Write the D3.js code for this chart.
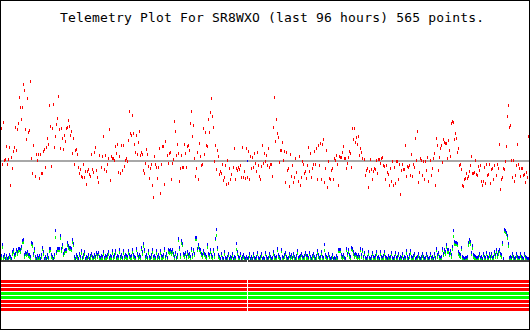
<!DOCTYPE html>
<html><head><meta charset="utf-8">
<script src="https://cdn.jsdelivr.net/npm/d3@7"></script>
<style>body{margin:0;background:#fff}svg{display:block}</style>
</head><body><svg id="c" width="530" height="330"></svg>
<script>
const title = "Telemetry Plot For SR8WXO (last 96 hours) 565 points.";
const hoursSpan = [-96, 0];
// red channel (arbitrary units, reference level at 150)
const redValues = [
250,140,268,154,157,196,142,157,193,79,163,130,181,193,253,184,247,265,343,313,
277,313,382,364,247,217,340,238,244,391,160,115,199,106,172,154,172,100,172,115,
115,181,187,133,193,220,202,319,256,136,250,322,193,226,262,280,346,247,190,250,
220,187,229,211,250,253,274,256,229,241,175,220,142,184,187,172,133,115,127,106,
103,142,103,121,82,121,127,112,106,172,127,118,178,193,124,103,88,169,133,166,
226,127,169,121,142,160,247,94,166,160,160,154,196,175,202,118,166,115,199,124,
199,136,154,160,151,214,301,235,229,289,235,202,178,229,172,208,241,169,178,172,
124,115,145,187,172,136,100,130,142,79,43,166,142,133,100,133,190,55,142,196,
196,82,211,169,145,175,178,97,145,157,271,241,
168,202,175,91,130,169,133,133,202,175,133,196,199,184,265,301,226,259,160,106,
130,178,97,205,166,139,142,250,172,238,199,196,277,238,298,340,286,253,151,199,
127,184,166,112,121,115,142,94,103,139,82,154,85,130,97,112,133,190,97,130,
124,133,127,139,103,193,103,121,100,190,103,181,97,166,130,163,133,175,145,121,
178,139,106,97,136,199,145,175,151,169,139,190,133,142,142,106,253,343,211,277,
235,223,148,184,184,208,154,181,88,178,124,130,76,172,106,139,88,103,160,118,
91,166,79,103,151,142,115,121,100,139,193,121,175,103,130,142,181,142,190,97,
199,139,205,97,202,217,88,130,184,73,151,100,97,124,130,97,160,154,169,142,
79,166,163,163,178,196,160,160,130,145,163,181,175,133,250,217,250,208,223,
202,226,169,190,178,160,157,109,124,130,73,121,157,127,97,121,130,127,154,115,
157,157,145,160,163,139,136,97,139,118,112,79,130,91,151,79,133,85,151,151,
97,142,52,124,142,127,127,199,106,136,133,139,109,172,106,142,133,220,154,241,
88,118,160,154,109,151,97,151,124,163,91,154,109,130,160,175,79,220,199,124,
163,190,199,148,217,208,205,205,160,214,184,166,265,271,268,217,235,220,178,190,
139,142,127,79,76,97,100,115,100,106,121,139,166,115,115,118,154,112,109,136,
124,139,91,79,91,133,85,142,109,112,142,85,127,130,97,139,109,142,130,202,
67,97,103,130,127,151,196,286,319,253,259,154,103,154,91,109,139,202,142,130,
106,130,130,109,112,88,118,103,226];
const referenceLevel = [150];
// blue channel (upper) and green channel (lower) of the bottom trace
const blueValues = [
17,50,15,20,10,17,8,12,20,15,8,30,35,20,25,37,30,38,40,35,
45,63,65,20,27,25,30,22,20,15,58,53,25,40,15,10,17,12,17,10,
20,43,30,10,15,8,20,12,38,40,20,15,8,20,92,30,38,38,40,77,
38,50,25,33,37,37,57,47,43,43,40,65,55,15,10,20,15,8,25,15,
33,12,20,30,10,15,12,20,8,17,25,15,12,20,15,27,20,27,15,12,
17,15,30,12,17,15,20,30,12,17,15,33,15,20,33,12,17,15,35,15,
20,12,33,15,20,17,15,33,20,15,17,35,20,15,12,40,25,15,20,15,
43,30,53,37,15,20,12,33,15,12,20,35,15,17,12,33,15,20,12,33,
17,15,20,40,15,25,12,35,33,35,30,35,25,15,27,12,20,70,43,
20,63,55,25,20,27,15,30,20,23,15,40,20,37,25,73,73,40,50,40,
35,25,20,33,25,20,15,50,25,20,35,20,15,37,20,70,95,43,20,15,
10,25,12,8,30,12,8,15,25,10,15,12,23,10,15,12,53,30,15,12,
25,10,15,20,12,8,15,10,12,23,10,15,8,23,12,10,15,27,12,10,
15,23,10,12,8,27,15,10,12,23,15,10,12,30,17,12,15,40,20,15,
10,37,15,12,20,27,15,10,12,23,15,20,12,23,15,10,17,33,12,15,
17,25,15,12,17,27,17,17,12,27,15,10,17,23,15,10,17,33,20,12,
15,30,15,12,50,20,15,12,25,15,10,12,20,10,12,8,17,12,37,37,
37,20,15,20,12,8,40,25,35,20,
15,43,40,30,20,25,20,15,20,15,40,20,37,15,27,12,10,15,30,12,
10,15,27,15,12,17,30,12,15,10,30,15,12,17,30,15,12,10,17,12,
15,27,12,10,15,27,12,15,25,10,15,12,23,10,15,12,33,15,10,20,
33,15,12,17,25,10,12,15,23,12,10,15,23,15,10,12,25,15,10,12,
25,12,15,10,23,12,40,20,27,15,12,15,40,25,35,30,50,35,35,25,
33,20,45,93,60,57,57,55,30,23,20,43,15,12,10,12,13,15,57,65,
60,27,47,20,17,15,12,13,15,25,12,15,10,25,15,12,27,15,12,23,
15,23,12,15,30,20,35,20,30,37,25,20,57,10,95,93,87,77,53,13,
15,12,23,15,10,12,23,15,13,12,23,15,12,10,25,15,12,10,10];
const greenValues = [
10,43,8,12,4,8,3,6,12,8,3,22,27,12,18,30,22,30,33,27,
38,56,57,13,20,18,22,15,13,8,50,45,17,30,8,4,10,6,10,4,
12,35,22,3,8,3,12,6,30,33,12,8,3,13,73,25,32,32,33,70,
30,42,18,25,30,30,48,40,35,35,33,57,48,8,3,12,8,3,17,8,
25,6,12,22,4,8,6,12,3,10,17,8,6,12,8,20,12,20,8,6,
10,8,22,6,10,8,12,22,6,10,8,25,8,12,25,6,10,8,27,8,
12,6,25,8,12,10,8,25,12,8,10,27,12,8,6,32,17,8,12,8,
35,22,45,30,8,12,6,25,8,6,12,27,8,10,6,25,8,12,6,25,
10,8,12,32,8,18,6,27,25,27,22,27,18,8,20,6,12,63,35,
12,55,47,17,12,20,8,22,12,15,8,32,12,30,17,65,65,32,42,32,
27,18,12,25,18,12,8,42,17,12,27,12,8,30,12,65,77,35,12,8,
4,17,6,3,22,6,3,8,17,4,8,6,15,4,8,6,35,22,8,6,
17,4,8,12,6,3,8,4,6,15,4,8,3,15,6,4,8,20,6,4,
8,15,4,6,3,20,8,4,6,15,8,4,6,22,10,6,8,32,12,8,
4,30,8,6,12,20,8,4,6,15,8,12,6,15,8,4,10,25,6,8,
10,17,8,6,10,20,10,10,6,20,8,4,10,15,8,4,10,25,12,6,
8,22,8,6,33,12,8,6,17,8,4,6,12,4,6,3,10,6,30,30,
30,12,8,12,6,3,32,17,27,12,
8,35,33,22,12,17,12,8,12,8,32,12,30,8,20,6,4,8,22,6,
4,8,20,8,6,10,22,6,8,4,22,8,6,10,22,8,6,4,10,6,
8,20,6,4,8,20,6,8,17,4,8,6,15,4,8,6,25,8,4,12,
25,8,6,10,17,4,6,8,15,6,4,8,15,8,4,6,17,8,4,6,
17,6,8,4,15,6,32,12,20,8,6,8,32,17,27,22,42,27,27,17,
25,12,37,75,52,50,50,48,22,15,12,35,8,6,4,6,6,8,48,57,
52,20,40,12,10,8,6,6,8,17,6,8,4,17,8,6,20,8,6,15,
8,15,6,8,22,12,27,12,22,30,17,12,50,4,90,88,80,70,45,6,
8,6,15,8,4,6,15,8,6,6,15,8,6,4,17,8,6,4,4];
// 8 digital status bits (0 = off/red, 1 = on/green)
const bitStates = [0,0,0,1,1,0,0,0];
const markerHours = [-51.2];

const svg = d3.select("#c").attr("shape-rendering", "crispEdges");
svg.append("rect").attr("width", 530).attr("height", 330).attr("fill", "#fff");

const x = d3.scaleLinear().domain(hoursSpan).range([1, 528]);
const hoursOf = n => d3.range(n).map(i => hoursSpan[0] + (hoursSpan[1] - hoursSpan[0]) * i / (n - 1));
const yRed = d3.scaleLinear().domain([0, 450]).range([210, 60]);
const yWind = d3.scaleLinear().domain([0, 105]).range([260, 225]);
const yBits = d3.scaleBand().domain(d3.range(bitStates.length)).range([280, 311]).paddingInner(0.25);
const bitColor = d3.scaleOrdinal().domain([0, 1]).range(["#ff0000", "#00ff00"]);

// title
svg.append("text").attr("x", 60).attr("y", 22)
  .attr("font-family", "'DejaVu Sans Mono', monospace").attr("font-size", 13)
  .attr("textLength", 424).attr("lengthAdjust", "spacing")
  .attr("fill", "#000").text(title);

// reference line
svg.selectAll("rect.ref").data(referenceLevel).join("rect").attr("class", "ref")
  .attr("x", 1).attr("width", 528).attr("y", d => Math.round(yRed(d))).attr("height", 2)
  .attr("fill", "#a8a8a8");

// red points
const hr = hoursOf(redValues.length);
svg.append("g").selectAll("rect").data(redValues).join("rect")
  .attr("x", (d, i) => Math.round(x(hr[i]))).attr("y", d => Math.round(yRed(d)))
  .attr("width", 1).attr("height", 3).attr("fill", "#ff0000");

// green then blue
const hw = hoursOf(blueValues.length);
svg.append("g").selectAll("rect").data(greenValues).join("rect")
  .attr("x", (d, i) => Math.round(x(hw[i]))).attr("y", d => Math.min(257, Math.round(yWind(d))))
  .attr("width", 1).attr("height", 3).attr("fill", "#00ff00");
svg.append("g").selectAll("rect").data(blueValues).join("rect")
  .attr("x", (d, i) => Math.round(x(hw[i]))).attr("y", d => Math.round(yWind(d)))
  .attr("width", 1).attr("height", 3).attr("fill", "#0000ff");

// baseline
svg.append("rect").attr("x", 1).attr("width", 528).attr("y", yWind(0)).attr("height", 2).attr("fill", "#404040");

// bit stripes
svg.append("g").selectAll("rect").data(bitStates).join("rect")
  .attr("x", 1).attr("width", 528)
  .attr("y", (d, i) => Math.round(yBits(i))).attr("height", Math.round(yBits.bandwidth()))
  .attr("fill", d => bitColor(d));

// time marker
markerHours.forEach(h => {
  const mx = Math.round(x(h));
  svg.append("rect").attr("x", mx).attr("width", 1).attr("y", yWind(0)).attr("height", 52).attr("fill", "#fff");
  svg.append("rect").attr("x", mx).attr("width", 1).attr("y", Math.round(yRed(referenceLevel[0]))).attr("height", 2).attr("fill", "#0000ff");
});

// frame
svg.append("rect").attr("x", 0.5).attr("y", 0.5).attr("width", 529).attr("height", 329)
  .attr("fill", "none").attr("stroke", "#000").attr("stroke-width", 1);
</script></body></html>
